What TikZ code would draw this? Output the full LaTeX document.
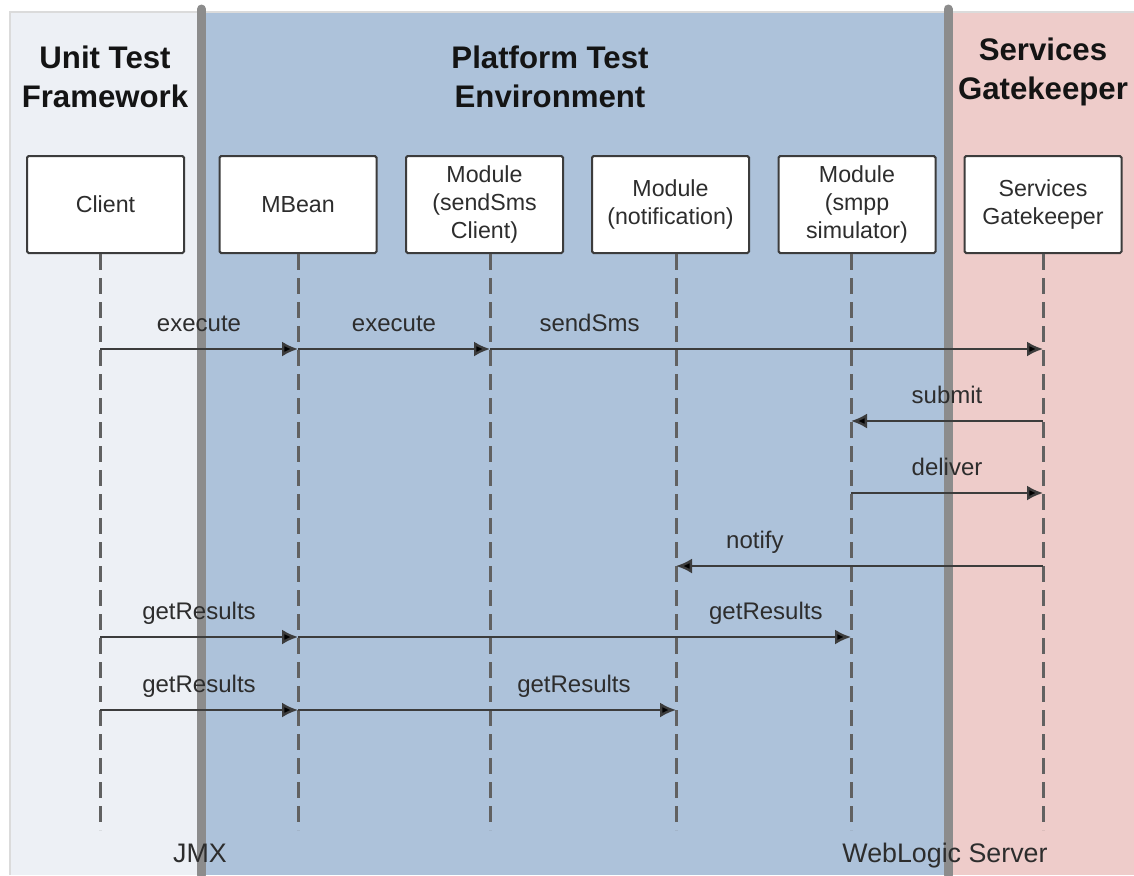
\documentclass[tikz,border=0pt]{standalone}
\usepackage{fontspec}
\setmainfont{Liberation Sans}
\usepackage{xcolor}
\usepackage{tikz}
\usetikzlibrary{positioning,arrows.meta}

\definecolor{unitbg}{RGB}{237,240,245}
\definecolor{platbg}{RGB}{173,194,218}
\definecolor{gatebg}{RGB}{238,204,202}
\definecolor{sepgray}{RGB}{140,140,140}
\definecolor{linegray}{RGB}{60,60,60}
\definecolor{txtgray}{RGB}{45,45,45}

\begin{document}
\begin{tikzpicture}[x=0.5pt,y=-0.5pt,>={Latex[length=8pt,width=7.5pt,fill=black]},
    obj/.style={draw=linegray,line width=1pt,fill=white,rounded corners=0.8pt,minimum width=78.5pt,minimum height=48.5pt,inner sep=0pt,align=center,text=txtgray,font=\fontsize{11.6}{14.2}\selectfont},
    head/.style={align=center,text=black!92,font=\fontsize{15.6}{19.5}\selectfont\bfseries},
    life/.style={draw=black!62,line width=1.5pt,dash pattern=on 8pt off 4pt},
    msg/.style={->,draw=linegray,line width=1.2pt},
    lbl/.style={anchor=base,yshift=9pt,inner sep=0pt,text=txtgray,font=\fontsize{12}{14}\selectfont},
    foot/.style={anchor=base,inner sep=0pt,text=txtgray,font=\fontsize{13.4}{16}\selectfont},
    wall/.style={draw=sepgray,line width=4.5pt,line cap=round}]

    \useasboundingbox (0,0) rectangle (1134,875);

    % The swimlanes
    \fill[unitbg] (10,12) rectangle (201,875);
    \fill[platbg] (201,12) rectangle (948,875);
    \fill[gatebg] (948,12) rectangle (1134,875);
    \draw[black!14,line width=0.6pt] (10,875) -- (10,12) -- (1134,12);
    \draw[wall] (201.5,9) -- (201.5,875);
    \draw[wall] (948,9) -- (948,875);

    \node [head] at (105,77) (unit) {Unit Test\\Framework};
    \node [head] at (550,77) (plat) {Platform Test\\Environment};
    \node [head] at (1043,72) (gate) {Services\\Gatekeeper};

    % The objects
    \node [obj] at (105.5,204.5) (client) {Client};
    \node [obj] at (298,204.5) (mbean) {MBean};
    \node [obj] at (484.5,204.5) (sendsms) {Module\\(sendSms\\Client)};
    \node [obj] at (670.5,204.5) (notif) {Module\\(notification)};
    \node [obj] at (857,204.5) (smpp) {Module\\(smpp\\simulator)};
    \node [obj] at (1043,204.5) (sg) {Services\\Gatekeeper};

    % Lifeline ends
    \coordinate (lclient) at (100,830);
    \coordinate (lmbean) at (298,830);
    \coordinate (lsendsms) at (490,830);
    \coordinate (lnotif) at (676,830);
    \coordinate (lsmpp) at (851,830);
    \coordinate (lsg) at (1043,830);

    \draw[life] (lclient |- client.south) -- (lclient);
    \draw[life] (lmbean |- mbean.south) -- (lmbean);
    \draw[life] (lsendsms |- sendsms.south) -- (lsendsms);
    \draw[life] (lnotif |- notif.south) -- (lnotif);
    \draw[life] (lsmpp |- smpp.south) -- (lsmpp);
    \draw[life] (lsg |- sg.south) -- (lsg);

    % Message rows
    \coordinate (r1) at (0,349);
    \coordinate (r2) at (0,421);
    \coordinate (r3) at (0,493);
    \coordinate (r4) at (0,566);
    \coordinate (r5) at (0,637);
    \coordinate (r6) at (0,710);

    % Messages
    \draw[msg] (lclient |- r1) -- node[lbl] {execute} (lmbean |- r1);
    \draw[msg] (lmbean |- r1) -- node[lbl] {execute} (lsendsms |- r1);
    \draw[msg] (lsendsms |- r1) -- node[lbl,pos=0.18] {sendSms} (lsg |- r1);

    \draw[msg] (lsg |- r2) -- node[lbl] {submit} (lsmpp |- r2);
    \draw[msg] (lsmpp |- r3) -- node[lbl] {deliver} (lsg |- r3);
    \draw[msg] (lsg |- r4) -- node[lbl,pos=0.785] {notify} (lnotif |- r4);

    \draw[msg] (lclient |- r5) -- node[lbl] {getResults} (lmbean |- r5);
    \draw[msg] (lmbean |- r5) -- node[lbl,pos=0.846] {getResults} (lsmpp |- r5);
    \draw[msg] (lclient |- r6) -- node[lbl] {getResults} (lmbean |- r6);
    \draw[msg] (lmbean |- r6) -- node[lbl,pos=0.73] {getResults} (lnotif |- r6);

    \node [foot] at (200,862) (jmx) {JMX};
    \node [foot] at (945,862) (wls) {WebLogic Server};

\end{tikzpicture}
\end{document}
